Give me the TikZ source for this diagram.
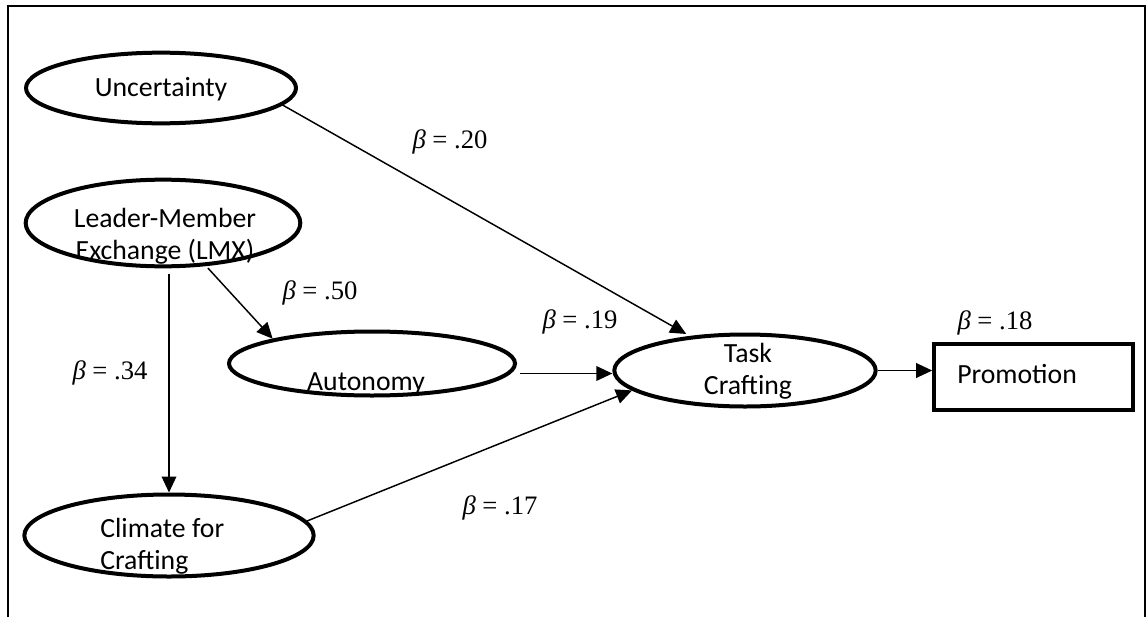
\documentclass[tikz,border=0pt]{standalone}
\usepackage{fontspec}
\setmainfont{Carlito}
\newfontfamily\tnr{Liberation Serif}
\usetikzlibrary{shapes.geometric,arrows.meta,calc}
\begin{document}
\begin{tikzpicture}[x=0.75pt,y=-0.75pt,
  lat/.style={ellipse,draw,line width=3pt,inner sep=0pt},
  conn/.style={line width=1.1pt,-{Triangle[length=12pt,width=11pt]}},
  beta/.style={font=\tnr\fontsize{20}{24}\selectfont,inner sep=0pt},
  txt/.style={font=\fontsize{20.8}{24}\selectfont,inner sep=0pt,align=center},
  txtl/.style={font=\fontsize{20.8}{24}\selectfont,inner sep=0pt,align=left}]
\useasboundingbox (0,0) rectangle (1148,617);
% frame (open at bottom)
\draw[line width=1.5pt] (8,617) -- (8,6) -- (1145,6) -- (1145,617);

% latent variables
\node[lat,minimum width=202.5pt,minimum height=53pt] (unc) at (161,88) {};
\node[txt] (unct) at (161,89) {Uncertainty};
\node[lat,minimum width=206pt,minimum height=65pt] (lmx) at (163,223) {};
\node[txt] (lmxt) at (165,236) {Leader-Member\\Exchange (LMX)};
\node[lat,minimum width=214.5pt,minimum height=48pt] (aut) at (372,363.5) {};
\node[txt] (autt) at (366,384) {Autonomy};
\node[lat,minimum width=196pt,minimum height=54pt] (task) at (745,370.5) {};
\node[txt] (taskt) at (748,371) {Task\\Crafting};
\node[lat,minimum width=217pt,minimum height=61.5pt] (clim) at (169,535.5) {};
\node[txtl,anchor=west] (climt) at (100,546) {Climate for\\Crafting};
\node[draw,line width=3pt,minimum width=149pt,minimum height=49.5pt,inner sep=0pt] (prom) at (1033.5,377) {};
\node[txtl,anchor=west] (promt) at (957,374) {Promotion};

% paths
\draw[conn,shorten >=3pt] (unc.-8) -- (task.148);
\draw[conn,shorten <=2pt] (lmx.-45) -- (aut.166);
\draw[conn,shorten <=4pt] (lmx.south -| clim.north) -- (clim.north);
\draw[conn] ($(aut.east |- task.west)+(3,3)$) -- ($(task.west)+(0,3)$);
\draw[conn] (clim.6) -- (task.190);
\draw[conn] (task.east) -- (task.east -| prom.west);

% coefficients
\node[beta] (b20) at (450,142) {\itshape β\upshape\ = .20};
\node[beta] (b50) at (320,293) {\itshape β\upshape\ = .50};
\node[beta] (b19) at (580,322) {\itshape β\upshape\ = .19};
\node[beta] (b34) at (110,373) {\itshape β\upshape\ = .34};
\node[beta] (b17) at (500,508) {\itshape β\upshape\ = .17};
\node[beta] (b18) at (995,323) {\itshape β\upshape\ = .18};
\end{tikzpicture}
\end{document}
